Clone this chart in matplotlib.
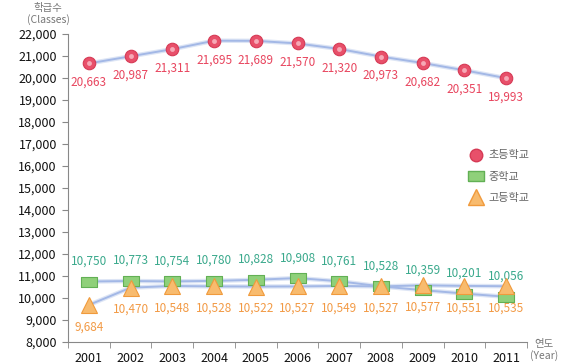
import matplotlib
matplotlib.use("Agg")
import matplotlib.pyplot as plt
from matplotlib.lines import Line2D

plt.rcParams['font.family'] = ['Noto Sans CJK KR', 'DejaVu Sans']

years = ['2001', '2002', '2003', '2004', '2005', '2006', '2007', '2008', '2009', '2010', '2011']
elementary = [20663, 20987, 21311, 21695, 21689, 21570, 21320, 20973, 20682, 20351, 19993]
middle = [10750, 10773, 10754, 10780, 10828, 10908, 10761, 10528, 10359, 10201, 10056]
high = [9684, 10470, 10548, 10528, 10522, 10527, 10549, 10527, 10577, 10551, 10535]
series_names = ['초등학교', '중학교', '고등학교']
yticks = list(range(8000, 22001, 1000))

fig = plt.figure(figsize=(5.64, 3.64), dpi=100)
ax = fig.add_axes([0.1206, 0.0604, 0.8138, 0.8462])

x = list(range(len(years)))
line_c = '#a3b8e6'
red, green, orange = '#e8455e', '#3aa98c', '#f29a45'

rect = [(-1.5, -1), (1.5, -1), (1.5, 1), (-1.5, 1), (-1.5, -1)]

for vals in (elementary, middle, high):
    ax.plot(x, vals, color='#dde5f5', lw=3.2, zorder=1, solid_capstyle='round')
    ax.plot(x, vals, color=line_c, lw=1.4, zorder=2)

ax.plot(x, elementary, ls='none', marker='o', ms=9, mfc='#e8506a', mec='#d63a55', mew=0.8, zorder=5)
ax.plot(x, elementary, ls='none', marker='o', ms=3.5, mfc='#f6a9b6', mec='none', zorder=6)
ax.plot(x, middle, ls='none', marker=rect, ms=11, mfc='#8fd07a', mec='#62b055', mew=0.8, zorder=5)
ax.plot(x, high, ls='none', marker='^', ms=12, mfc='#f8bb6e', mec='#f09a3c', mew=0.8, zorder=5)

for xi, v in zip(x, elementary):
    ax.annotate(f'{v:,}', (xi, v), xytext=(0, -9), textcoords='offset points',
                ha='center', va='top', color=red, fontsize=8.5)
for xi, v in zip(x, middle):
    ax.annotate(f'{v:,}', (xi, v), xytext=(0, 10), textcoords='offset points',
                ha='center', va='bottom', color=green, fontsize=8.5)
for xi, v in zip(x, high):
    ax.annotate(f'{v:,}', (xi, v), xytext=(0, -11), textcoords='offset points',
                ha='center', va='top', color=orange, fontsize=8.5)

ax.set_xlim(-0.5, len(years) - 0.5)
ax.set_ylim(8000, 22000)
ax.set_yticks(yticks)
ax.set_yticklabels([f'{t:,}' for t in yticks], fontsize=9, color='#111111')
ax.set_xticks(x)
ax.set_xticklabels(years, fontsize=9, color='#111111')
ax.set_xticks([i - 0.5 for i in range(len(years) + 1)], minor=True)
ax.tick_params(axis='x', which='major', length=0, pad=7)
ax.tick_params(axis='x', which='minor', length=4, color='#888888', direction='out')
ax.tick_params(axis='y', length=4, color='#888888', direction='out', pad=4)
for s in ('top', 'right'):
    ax.spines[s].set_visible(False)
for s in ('left', 'bottom'):
    ax.spines[s].set_color('#888888')

fig.text(0.085, 0.978, '학급수', ha='center', va='center', fontsize=7.5, color='#777777')
fig.text(0.085, 0.945, '(Classes)', ha='center', va='center', fontsize=7.5, color='#777777')
fig.text(0.965, 0.055, '연도', ha='center', va='center', fontsize=7.5, color='#777777')
fig.text(0.965, 0.022, '(Year)', ha='center', va='center', fontsize=7.5, color='#777777')

handles = [
    Line2D([], [], ls='none', marker='o', ms=9, mfc='#e8506a', mec='#d63a55'),
    Line2D([], [], ls='none', marker=rect, ms=11, mfc='#8fd07a', mec='#62b055'),
    Line2D([], [], ls='none', marker='^', ms=12, mfc='#f8bb6e', mec='#f09a3c'),
]
leg = fig.legend(handles, series_names, loc='center left', bbox_to_anchor=(0.815, 0.515),
                 frameon=False, fontsize=8, labelspacing=1.0, handletextpad=0.5,
                 handlelength=1.2)
for t in leg.get_texts():
    t.set_color('#666666')

fig.savefig('out.png', dpi=100)
